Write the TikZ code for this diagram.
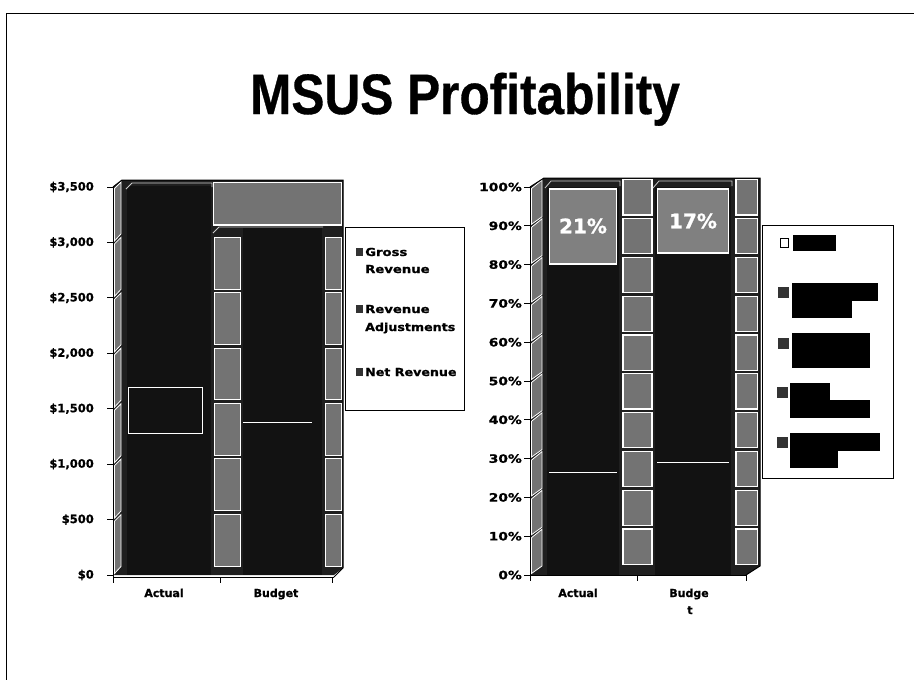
\documentclass[tikz,border=0pt]{standalone}
\usepackage{fontspec}
\usepackage{graphicx}
\setmainfont{DejaVu Sans}
\newfontfamily\heavyfont{DejaVu Sans}[FakeBold=0.9]
\newfontfamily\headfont{Liberation Sans}[FakeBold=0.6]

\tikzset{
  plotbg/.style={fill=black!88},
  cell/.style={fill=black!55, draw=white, line width=1.1pt},
  barfill/.style={fill=black!93},
  axisline/.style={draw=black, line width=1pt},
  ticklab/.style={font=\heavyfont\bfseries\fontsize{11.5}{13}\selectfont, anchor=east, inner sep=0pt},
  catlab/.style={font=\heavyfont\bfseries\fontsize{11}{13}\selectfont, anchor=base, inner sep=0pt},
  legtext/.style={font=\heavyfont\bfseries\fontsize{11}{13}\selectfont, anchor=base west, inner sep=0pt},
  legbox/.style={draw=black, line width=1pt, fill=white},
  legsq/.style={fill=black!80, draw=black!80},
  redact/.style={fill=black},
  pctbox/.style={fill=black!50, draw=white, line width=1.2pt},
  pctlab/.style={font=\heavyfont\bfseries\fontsize{20}{22}\selectfont, text=white, inner sep=0pt},
}

\begin{document}
\begin{tikzpicture}[x=1pt, y=-1pt]
\useasboundingbox (0,0) rectangle (914,680);
\fill[white] (0,0) rectangle (914,680);

% page frame
\draw[line width=1pt] (6,680) -- (6,13) -- (914,13);

% title
\node[font=\headfont\bfseries\fontsize{57}{62}\selectfont, anchor=base, inner sep=0pt]
  (title) at (465,114) {\scalebox{0.87}[1]{MSUS Profitability}};

%================ left chart: revenue in dollars ================
% plot body (side wall, back wall, floor)
\fill[plotbg] (113,187) -- (122,180) -- (343,180) -- (343,568) -- (334,575) -- (113,575) -- cycle;
% wall area above the budget bar
\draw[cell] (213.5,182.5) rectangle (341.5,225);
% back-wall cells seen between and beside the bars
\foreach \k in {0,...,5}{
  \pgfmathsetmacro\lo{568-55.43*\k}
  \pgfmathsetmacro\hi{568-55.43*(\k+1)}
  \draw[cell] (214.5,{\hi+1.8}) rectangle (240.5,{\lo-1.8});
  \draw[cell] (325.5,{\hi+1.8}) rectangle (341.5,{\lo-1.8});
}
% side-wall cells
\foreach \k in {0,...,6}{
  \pgfmathsetmacro\lof{575-55.43*\k}
  \pgfmathsetmacro\hif{575-55.43*(\k+1)}
  \draw[cell, line width=0.8pt] (114.5,{\lof-1.5}) -- (121,{\lof-8.5}) -- (121,{\hif-5}) -- (114.5,{\hif+1.5}) -- cycle;
}
% bars
\fill[barfill] (127,186) rectangle (211,575);
\draw[white!80!black, line width=0.8pt] (126,189) -- (132,183) -- (212,183) -- (212,187);
\fill[barfill] (243,228) rectangle (322,575);
\draw[white!80!black, line width=0.8pt] (213,233) -- (219,227) -- (323,227);
% segment marks inside the bars
\draw[white, line width=0.9pt] (128,387) rectangle (202,433);
\draw[white, line width=0.9pt] (243,422) -- (312,422);
% axes
\draw[axisline] (113,187) -- (113,577) -- (334,577);
\draw[axisline] (113,187) -- (122,180) -- (343,180) -- (343,568) -- (334,577);
\foreach \x in {113,220,332}{ \draw[axisline] (\x,577) -- (\x,583); }
\foreach \v/\t in {0/\$0,500/\$500,1000/{\$1,000},1500/{\$1,500},2000/{\$2,000},2500/{\$2,500},3000/{\$3,000},3500/{\$3,500}}{
  \draw[axisline] (107,{575-0.11086*\v}) -- (113,{575-0.11086*\v});
  \node[ticklab] at (94,{575-0.11086*\v}) {\t};
}
\node[catlab] (lact) at (164,597) {Actual};
\node[catlab] (lbud) at (276,597) {Budget};

% legend
\draw[legbox] (345,227) rectangle (464,410);
\fill[legsq] (356,248) rectangle (362,255);
\node[legtext] (lg1) at (365,256) {\scalebox{1.2}[1]{Gross}};
\node[legtext] (lg1b) at (365,273) {\scalebox{1.2}[1]{Revenue}};
\fill[legsq] (356,305) rectangle (362,312);
\node[legtext] (lg2) at (365,313) {\scalebox{1.2}[1]{Revenue}};
\node[legtext] (lg2b) at (365,331) {\scalebox{1.15}[1]{Adjustments}};
\fill[legsq] (356,368) rectangle (362,375);
\node[legtext] (lg3) at (365,376) {\scalebox{1.15}[1]{Net Revenue}};

%================ right chart: shares in percent ================
\fill[plotbg] (530,187) -- (544,178) -- (760,178) -- (760,566) -- (746,575) -- (530,575) -- cycle;
\foreach \k in {0,...,9}{
  \pgfmathsetmacro\lo{566-38.8*\k}
  \pgfmathsetmacro\hi{566-38.8*(\k+1)}
  \draw[cell] (623,{\hi+1.8}) rectangle (652,{\lo-1.8});
  \draw[cell] (736,{\hi+1.8}) rectangle (757.5,{\lo-1.8});
}
\foreach \k in {0,...,9}{
  \pgfmathsetmacro\lof{575-38.8*\k}
  \pgfmathsetmacro\hif{575-38.8*(\k+1)}
  \draw[cell, line width=0.8pt] (531.5,{\lof-1.5}) -- (542,{\lof-9}) -- (542,{\hif-7}) -- (531.5,{\hif+1.5}) -- cycle;
}
% bars
\fill[barfill] (547,187) rectangle (619,575);
\fill[barfill] (655,187) rectangle (731,575);
\draw[white!80!black, line width=0.8pt] (545,188) -- (551,181) -- (620,181) -- (620,186);
\draw[white!80!black, line width=0.8pt] (653,188) -- (659,181) -- (732,181) -- (732,186);
% top segments with their labels
\draw[pctbox] (549.5,189) rectangle (616.5,264);
\node[pctlab] (p21) at (583,226) {21\%};
\draw[pctbox] (657.5,189) rectangle (728.5,253);
\node[pctlab] (p17) at (693,221) {17\%};
% segment marks inside the bars
\draw[white, line width=1pt] (549,472) -- (617,472);
\draw[white, line width=1pt] (657,462) -- (729,462);
% axes
\draw[axisline] (530,187) -- (530,575) -- (746,575);
\draw[axisline] (530,187) -- (544,178) -- (760,178) -- (760,566) -- (746,575);
\foreach \x in {530,637,746}{ \draw[axisline] (\x,575) -- (\x,581); }
\foreach \p in {0,10,...,100}{
  \draw[axisline] (524,{575-3.88*\p}) -- (530,{575-3.88*\p});
  \node[ticklab] at (522,{575-3.88*\p}) {\scalebox{1.2}[1]{\p\%}};
}
\node[catlab] (ract) at (578,597) {Actual};
\node[catlab] (rbud) at (689,597) {Budge};
\node[catlab] (rbudt) at (690,614) {t};

% legend with blacked-out entries
\draw[legbox] (762,225) rectangle (893,478);
\draw[line width=1pt, fill=white] (780,238) rectangle (788,247);
\fill[redact] (793,235) rectangle (836,251);
\fill[legsq] (778,287) rectangle (788,297);
\fill[redact] (792,283) rectangle (878,301);
\fill[redact] (792,300) rectangle (852,318);
\fill[legsq] (778,338) rectangle (788,348);
\fill[redact] (792,333) rectangle (870,368);
\fill[legsq] (777,387) rectangle (787,397);
\fill[redact] (790,383) rectangle (830,401);
\fill[redact] (790,400) rectangle (870,418);
\fill[legsq] (777,437) rectangle (787,447);
\fill[redact] (790,433) rectangle (880,451);
\fill[redact] (790,450) rectangle (838,468);
\end{tikzpicture}
\end{document}
